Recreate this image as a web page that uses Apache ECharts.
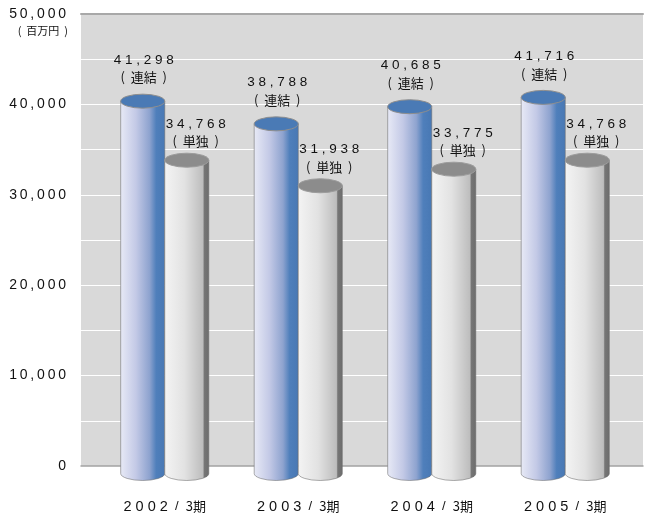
<!DOCTYPE html>
<html>
<head>
<meta charset="utf-8">
<script src="https://cdn.jsdelivr.net/npm/echarts@6/dist/echarts.min.js"></script>
<style>
  html, body { margin: 0; padding: 0; background: #ffffff; }
  #chart { width: 645px; height: 516px; }
</style>
</head>
<body>
<div id="chart"></div>
<script>
// Fiscal years (each ending in March)
const categories = ['2002', '2003', '2004', '2005'];
// Net sales, millions of yen
const consolidated = [41298, 38788, 40685, 41716];
const standalone = [34768, 31938, 33775, 34768];
const seriesTags = ['連結', '単独'];
const periodSuffix = '3期';
const unitLabel = '百万円';

const FONT = '"Liberation Sans", Arial, sans-serif';
const CJK = '"Noto Sans CJK JP", sans-serif';
const THIN = '\u2009';
const spaced = s => s.split('').join(THIN);
const wide = s => s.split('').join(' ');
const paren = s => '(  ' + s + '  )';
const fmt = v => v.toLocaleString('en-US');

// Draws one cylinder per data item; side -1 = left slot, +1 = right slot
function cylinder(side, bodyStops, topFill, topStroke, labelDx, labelGap, tag) {
  return function (params, api) {
    const idx = api.value(0);
    const val = api.value(1);
    const top = api.coord([idx, val]);
    const base = api.coord([idx, 0]);
    const band = api.size([1, 0])[0];
    const w = band * 0.33;
    const rx = w / 2;
    const ry = 7;
    const cx = top[0] + side * rx;
    const ty = top[1] + 8.5;
    const by = base[1] + 7.5;
    const l = cx - rx, r = cx + rx;
    const bodyPath = `M ${l} ${ty} L ${l} ${by} A ${rx} ${ry} 0 0 0 ${r} ${by} L ${r} ${ty} Z`;
    const topPath = `M ${l} ${ty} A ${rx} ${ry} 0 1 0 ${r} ${ty} A ${rx} ${ry} 0 1 0 ${l} ${ty} Z`;
    return {
      type: 'group',
      children: [
        {
          type: 'path',
          shape: { pathData: bodyPath },
          style: {
            fill: new echarts.graphic.LinearGradient(0, 0, 1, 0, bodyStops),
            stroke: 'rgba(110,110,110,0.7)',
            lineWidth: 0.8
          }
        },
        {
          type: 'path',
          shape: { pathData: topPath },
          style: { fill: topFill, stroke: topStroke, lineWidth: 1 }
        },
        {
          type: 'text',
          z2: 100,
          style: {
            text: '{n|' + wide(fmt(val)) + '}\n{t|' + paren(tag) + '}',
            x: cx + labelDx,
            y: top[1] - labelGap,
            align: 'center',
            verticalAlign: 'bottom',
            rich: {
              n: { fontSize: 13.5, fontFamily: FONT, lineHeight: 17.5, fill: '#111111', align: 'center' },
              t: { fontSize: 13, fontFamily: CJK, lineHeight: 17.5, fill: '#111111', align: 'center' }
            }
          }
        }
      ]
    };
  };
}

const blueStops = [
  { offset: 0, color: '#e8eaf6' },
  { offset: 0.35, color: '#c3c9e6' },
  { offset: 0.65, color: '#8ea3cf' },
  { offset: 0.8, color: '#4f7fbb' },
  { offset: 1, color: '#4878b4' }
];
const grayStops = [
  { offset: 0, color: '#f4f4f4' },
  { offset: 0.45, color: '#e2e2e2' },
  { offset: 0.86, color: '#bdbdbd' },
  { offset: 0.89, color: '#767676' },
  { offset: 1, color: '#6c6c6c' }
];

const chart = echarts.init(document.getElementById('chart'), null, { renderer: 'canvas' });

chart.setOption({
  animation: false,
  backgroundColor: '#ffffff',
  textStyle: { fontFamily: FONT },
  grid: [
    // back wall with the value scale
    { left: 81, right: 2, top: 14, bottom: 50, show: true, backgroundColor: '#d9d9d9', borderWidth: 0 },
    // plotting area for the cylinders
    { left: 98, right: 13, top: 14, bottom: 50 }
  ],
  xAxis: [
    {
      gridIndex: 0, type: 'category', data: categories, position: 'bottom',
      axisLine: { show: true, lineStyle: { color: '#a3a3a3', width: 1.5 } },
      axisTick: { show: false }, axisLabel: { show: false }, splitLine: { show: false }
    },
    {
      gridIndex: 0, type: 'category', data: categories, position: 'top',
      axisLine: { show: true, lineStyle: { color: '#a8a8a8', width: 2 } },
      axisTick: { show: false }, axisLabel: { show: false }, splitLine: { show: false }
    },
    {
      gridIndex: 1, type: 'category', data: categories,
      axisLine: { show: false }, axisTick: { show: false }, splitLine: { show: false },
      axisLabel: {
        interval: 0,
        margin: 33,
        formatter: v => `{a|${wide(v)}}{s|  /  }{b|${periodSuffix}}`,
        rich: {
          a: { fontSize: 14.5, fontFamily: FONT, color: '#111111' },
          s: { fontSize: 13, fontFamily: FONT, color: '#111111' },
          b: { fontSize: 13, fontFamily: CJK, color: '#111111' }
        }
      }
    }
  ],
  yAxis: [
    {
      gridIndex: 0, type: 'value', min: 0, max: 50000, interval: 5000,
      name: '(  ' + unitLabel + '  )', nameLocation: 'end', nameGap: -17,
      nameTextStyle: {
        fontSize: 11, fontFamily: CJK, color: '#111111',
        align: 'right', verticalAlign: 'middle', padding: [0, 13, 0, 0]
      },
      axisLine: { show: false }, axisTick: { show: false },
      axisLabel: {
        margin: 15, fontSize: 14, color: '#111111', fontFamily: FONT,
        formatter: v => (v % 10000 === 0 ? spaced(fmt(v)) : '')
      },
      splitLine: { show: true, lineStyle: { color: '#ffffff', width: 1 } }
    },
    {
      gridIndex: 1, type: 'value', min: 0, max: 50000, interval: 5000, show: false
    }
  ],
  series: [
    {
      name: '連結',
      type: 'custom',
      xAxisIndex: 2, yAxisIndex: 1,
      renderItem: cylinder(-1, blueStops, '#4a7ab5', '#8e8e8e', 1, 6.5, seriesTags[0]),
      data: consolidated.map((v, i) => [i, v]),
      z: 3
    },
    {
      name: '単独',
      type: 'custom',
      xAxisIndex: 2, yAxisIndex: 1,
      renderItem: cylinder(1, grayStops, '#8c8c8c', '#9c9c9c', 9, 1.5, seriesTags[1]),
      data: standalone.map((v, i) => [i, v]),
      z: 4
    }
  ]
});
</script>
</body>
</html>
